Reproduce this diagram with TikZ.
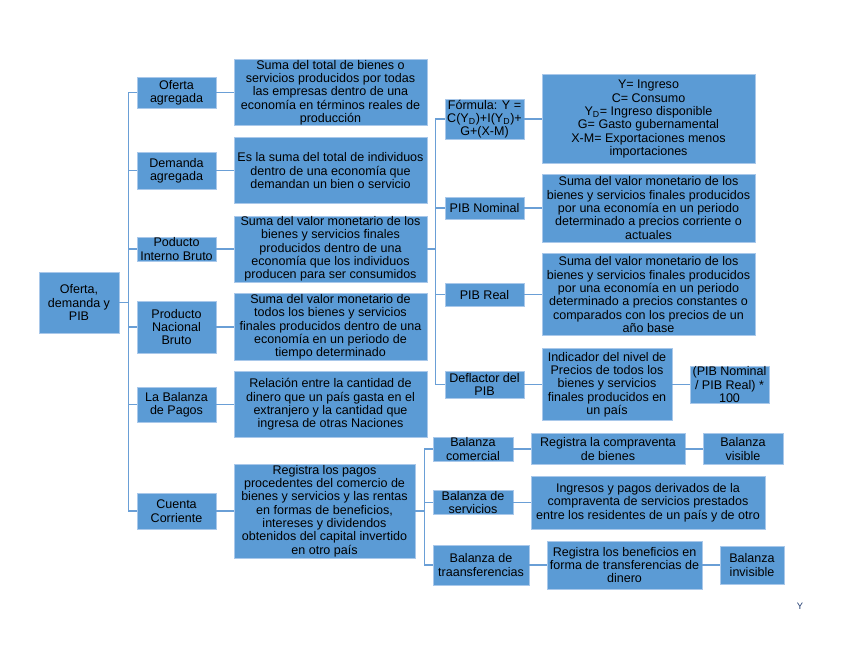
\documentclass[tikz,border=0pt]{standalone}
\usepackage{fontspec}
\setmainfont{Liberation Sans}
\usetikzlibrary{positioning}
\definecolor{cmbox}{HTML}{5B9BD5}
\definecolor{cmedge}{HTML}{A9C8EA}
\definecolor{cmline}{HTML}{6A9FD6}
\definecolor{cmnavy}{HTML}{1F3A6F}

\begin{document}
\begin{tikzpicture}[
  node distance=0pt and 13pt,
  every node/.style={font=\fontsize{9.4}{10}\selectfont},
  box/.style={draw=cmedge, fill=cmbox, line width=0.5pt, inner sep=0.5pt, align=center},
  link/.style={cmline, line width=1.1pt}
]
  \useasboundingbox (0,0) rectangle (636pt,-491.25pt);

  % Root
  \node[box, minimum width=60pt, minimum height=45.75pt] (root) at (59.25pt,-226.9pt)
    {Oferta,\\demanda y\\PIB};

  % First level
  \node[box, minimum width=59.25pt, minimum height=23.25pt, right=of root, yshift=157.5pt]
    (oferta) {Oferta\\agregada};
  \node[box, minimum width=59.25pt, minimum height=27.75pt, right=of root, yshift=99pt]
    (demanda) {Demanda\\agregada};
  \node[box, minimum width=59.25pt, minimum height=18pt, right=of root, yshift=40.1pt]
    (pib) {Poducto\\Interno Bruto};
  \node[box, minimum width=59.25pt, minimum height=39pt, right=of root, yshift=-18.4pt]
    (pnb) {Producto\\Nacional\\Bruto};
  \node[box, minimum width=59.25pt, minimum height=26.25pt, right=of root, yshift=-76.5pt]
    (pagos) {La Balanza\\de Pagos};
  \node[box, minimum width=59.25pt, minimum height=27pt, right=of root, yshift=-156.4pt]
    (cuenta) {Cuenta\\Corriente};

  % Definitions
  \node[box, minimum width=144.75pt, minimum height=49.5pt, right=of oferta] (defOferta)
    {Suma del total de bienes o\\servicios producidos por todas\\las empresas dentro de una\\economía en términos reales de\\producción};
  \node[box, minimum width=144.75pt, minimum height=49.5pt, right=of demanda] (defDemanda)
    {Es la suma del total de individuos\\dentro de una economía que\\demandan un bien o servicio};
  \node[box, minimum width=144.75pt, minimum height=49.5pt, right=of pib] (defPib)
    {Suma del valor monetario de los\\bienes y servicios finales\\producidos dentro de una\\economía que los individuos\\producen para ser consumidos};
  \node[box, minimum width=144.75pt, minimum height=50.25pt, right=of pnb] (defPnb)
    {Suma del valor monetario de\\todos los bienes y servicios\\finales producidos dentro de una\\economía en un periodo de\\tiempo determinado};
  \node[box, minimum width=144.75pt, minimum height=49.5pt, right=of pagos] (defPagos)
    {Relación entre la cantidad de\\dinero que un país gasta en el\\extranjero y la cantidad que\\ingresa de otras Naciones};
  \node[box, minimum width=135.75pt, minimum height=70.5pt, right=of cuenta] (defCuenta)
    {Registra los pagos\\procedentes del comercio de\\bienes y servicios y las rentas\\en formas de beneficios,\\intereses y dividendos\\obtenidos del capital invertido\\en otro país};

  % PIB branch
  \node[box, minimum width=59.25pt, minimum height=28.5pt, right=of defPib, yshift=97.5pt]
    (formula) {Fórmula: Y =\\C(Y\textsubscript{D})+I(Y\textsubscript{D})+\\G+(X-M)};
  \node[box, minimum width=59.25pt, minimum height=16.5pt, right=of defPib, yshift=30.75pt]
    (nominal) {PIB Nominal};
  \node[box, minimum width=59.25pt, minimum height=17.25pt, right=of defPib, yshift=-34.1pt]
    (real) {PIB Real};
  \node[box, minimum width=59.25pt, minimum height=20.25pt, right=of defPib, yshift=-101.6pt]
    (deflactor) {Deflactor del\\PIB};

  \node[box, minimum width=159.75pt, minimum height=66.75pt, right=of formula] (defFormula)
    {Y= Ingreso\\C= Consumo\\Y\textsubscript{D}= Ingreso disponible\\G= Gasto gubernamental\\X-M= Exportaciones menos\\importaciones};
  \node[box, minimum width=159.75pt, minimum height=51pt, right=of nominal] (defNominal)
    {Suma del valor monetario de los\\bienes y servicios finales producidos\\por una economía en un periodo\\determinado a precios corriente o\\actuales};
  \node[box, minimum width=159.75pt, minimum height=61.5pt, right=of real] (defReal)
    {Suma del valor monetario de los\\bienes y servicios finales producidos\\por una economía en un periodo\\determinado a precios constantes o\\comparados con los precios de un\\año base};
  \node[box, minimum width=97.5pt, minimum height=54pt, right=of deflactor] (defDeflactor)
    {Indicador del nivel de\\Precios de todos los\\bienes y servicios\\finales producidos en\\un país};
  \node[box, minimum width=59.25pt, minimum height=27.75pt, right=of defDeflactor] (ratio)
    {(PIB Nominal\\/ PIB Real) *\\100};

  % Cuenta corriente branch
  \node[box, minimum width=60pt, minimum height=18pt, right=of defCuenta, yshift=46.5pt]
    (comercial) {Balanza\\comercial};
  \node[box, minimum width=60pt, minimum height=17.25pt, right=of defCuenta, yshift=6.4pt]
    (servicios) {Balanza de\\servicios};
  \node[box, minimum width=72pt, minimum height=30pt, right=of defCuenta, yshift=-40.5pt]
    (transf) {Balanza de\\traansferencias};

  \node[box, minimum width=115.5pt, minimum height=23.25pt, right=of comercial] (defComercial)
    {Registra la compraventa\\de bienes};
  \node[box, minimum width=175.5pt, minimum height=39.75pt, right=of servicios] (defServicios)
    {Ingresos y pagos derivados de la\\compraventa de servicios prestados\\entre los residentes de un país y de otro};
  \node[box, minimum width=116.25pt, minimum height=36pt, right=of transf] (defTransf)
    {Registra los beneficios en\\forma de transferencias de\\dinero};
  \node[box, minimum width=60pt, minimum height=23.25pt, right=of defComercial] (visible)
    {Balanza\\visible};
  \node[box, minimum width=48pt, minimum height=28.5pt, right=of defTransf] (invisible)
    {Balanza\\invisible};

  \node[text=cmnavy, font=\fontsize{7}{8}\selectfont] (mark) at (600pt,-454.5pt) {Y};

  % Connectors
  \foreach \n in {oferta,demanda,pib,pnb,pagos,cuenta}
    \draw[link] (root.east) -- ++(6.75pt,0) |- (\n.west);
  \foreach \n in {formula,nominal,real,deflactor}
    \draw[link] (defPib.east) -- ++(6pt,0) |- (\n.west);
  \foreach \n in {comercial,servicios,transf}
    \draw[link] (defCuenta.east) -- ++(6.75pt,0) |- (\n.west);

  \draw[link] (oferta) -- (defOferta);
  \draw[link] (demanda) -- (defDemanda);
  \draw[link] (pib) -- (defPib);
  \draw[link] (pnb) -- (defPnb);
  \draw[link] (pagos) -- (defPagos);
  \draw[link] (cuenta) -- (defCuenta);

  \draw[link] (formula) -- (defFormula);
  \draw[link] (nominal) -- (defNominal);
  \draw[link] (real) -- (defReal);
  \draw[link] (deflactor) -- (defDeflactor);
  \draw[link] (defDeflactor) -- (ratio);

  \draw[link] (comercial) -- (defComercial);
  \draw[link] (servicios) -- (defServicios);
  \draw[link] (transf) -- (defTransf);
  \draw[link] (defComercial) -- (visible);
  \draw[link] (defTransf) -- (invisible);

\end{tikzpicture}
\end{document}
